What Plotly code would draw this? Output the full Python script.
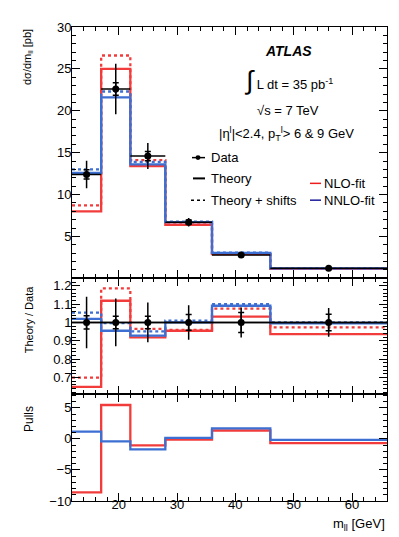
import plotly.graph_objects as go
from plotly.subplots import make_subplots

# bins in m_ll [GeV]
edges = [12, 17, 22, 28, 36, 46, 66]
centres = [14.5, 19.5, 25, 32, 41, 56]
half_w = [2.5, 2.5, 3, 4, 5, 10]

# top panel: d sigma / d m_ll [pb]
data = [12.4, 22.6, 14.6, 6.7, 2.8, 1.2]
err_tot = [1.65, 3.0, 1.55, 0.5, 0.2, 0.1]
err_stat = [0.55, 0.75, 0.55, 0.25, 0.1, 0.05]
nlo = [8.0, 25.0, 13.4, 6.4, 2.89, 1.12]
nlo_shift = [8.7, 26.6, 14.1, 6.45, 3.01, 1.17]
nnlo = [12.6, 21.6, 13.6, 6.7, 3.05, 1.19]
nnlo_shift = [13.0, 22.3, 13.9, 6.77, 3.07, 1.20]

# middle panel: theory / data
ratio_data = [1, 1, 1, 1, 1, 1]
ratio_err_tot = [0.14, 0.13, 0.108, 0.094, 0.082, 0.078]
ratio_err_stat = [0.036, 0.034, 0.034, 0.043, 0.054, 0.045]
nlo_r = [0.65, 1.118, 0.919, 0.955, 1.032, 0.937]
nlo_shift_r = [0.70, 1.185, 0.965, 0.96, 1.075, 0.973]
nnlo_r = [1.02, 0.955, 0.928, 1.0, 1.091, 0.995]
nnlo_shift_r = [1.053, 0.996, 0.951, 1.01, 1.099, 1.0]
theory_r = [1, 1, 1, 1, 1, 1]

# bottom panel: pulls
nlo_p = [-8.6, 5.45, -1.05, -0.1, 1.35, -0.7]
nnlo_p = [1.15, -0.4, -1.7, 0.15, 1.7, -0.15]

RED = "#f23c3c"
BLUE = "#3d6fd2"
FONT = "Liberation Sans"

W, H = 399, 537
L, R, T, B = 64, 20, 14, 44
PW, PH = W - L - R, H - T - B


def px(x):
    return (x - L) / PW


def py(y):
    return (H - B - y) / PH


def step(fig, vals, color, dash, row, width=2.3):
    fig.add_trace(go.Scatter(
        x=edges, y=vals + [vals[-1]], mode="lines", line_shape="hv",
        line=dict(color=color, width=width, dash=dash),
        showlegend=False, hoverinfo="skip"), row=row, col=1)


def points(fig, y, tot, stat, row):
    fig.add_trace(go.Scatter(
        x=centres, y=y, mode="markers", marker=dict(size=1, color="black"),
        error_y=dict(type="data", array=tot, width=0, thickness=1.5, color="black"),
        error_x=dict(type="data", array=half_w, width=0, thickness=1.5, color="black"),
        showlegend=False), row=row, col=1)
    fig.add_trace(go.Scatter(
        x=centres, y=y, mode="markers", marker=dict(size=7, color="black"),
        error_y=dict(type="data", array=stat, width=3, thickness=1.5, color="black"),
        showlegend=False), row=row, col=1)


fig = make_subplots(rows=3, cols=1, shared_xaxes=True, vertical_spacing=0,
                    row_heights=[254, 117, 108])

# top panel
step(fig, nlo_shift, RED, "dot", 1)
step(fig, nlo, RED, "solid", 1)
step(fig, nnlo_shift, BLUE, "dot", 1)
step(fig, nnlo, BLUE, "solid", 1)
points(fig, data, err_tot, err_stat, 1)

# ratio panel
step(fig, nlo_shift_r, RED, "dot", 2)
step(fig, nlo_r, RED, "solid", 2)
step(fig, nnlo_shift_r, BLUE, "dot", 2)
step(fig, nnlo_r, BLUE, "solid", 2)
step(fig, theory_r, "black", "solid", 2, width=1.5)
points(fig, ratio_data, ratio_err_tot, ratio_err_stat, 2)

# pulls panel
step(fig, nlo_p, RED, "solid", 3)
step(fig, nnlo_p, BLUE, "solid", 3)

axis_style = dict(showline=True, linecolor="black", linewidth=1, mirror="ticks",
                  ticks="inside", ticklen=8, tickcolor="black", showgrid=False,
                  zeroline=False, tickfont=dict(family=FONT, size=13, color="black"))

for i in (1, 2, 3):
    fig.update_xaxes(axis_style, range=[12, 66], tick0=0, dtick=10,
                     minor=dict(ticks="inside", ticklen=4, dtick=2, tick0=0, tickcolor="black"),
                     showticklabels=(i == 3), ticklabelstandoff=-9, row=i, col=1)

fig.update_yaxes(axis_style, range=[0, 30], tickmode="array", tickvals=[5, 10, 15, 20, 25, 30],
                 minor=dict(ticks="inside", ticklen=4, tickmode="linear", dtick=1, tick0=0,
                            tickcolor="black"), row=1, col=1)
fig.update_yaxes(axis_style, range=[0.61, 1.24], tickmode="array",
                 tickvals=[0.7, 0.8, 0.9, 1, 1.1, 1.2], ticktext=["0.7", "0.8", "0.9", "1", "1.1", "1.2"],
                 minor=dict(ticks="inside", ticklen=4, tickmode="linear", dtick=0.02, tick0=0,
                            tickcolor="black"), row=2, col=1)
fig.update_yaxes(axis_style, range=[-10, 7.2], tickmode="array", tickvals=[-10, -5, 0, 5],
                 minor=dict(ticks="inside", ticklen=4, tickmode="linear", dtick=1, tick0=0,
                            tickcolor="black"), row=3, col=1)
fig.update_yaxes(ticklabelstandoff=-3)

ann = []


def text(x, y, s, size=13, xanchor="left", yanchor="middle", angle=0, **kw):
    ann.append(dict(x=px(x), y=py(y), xref="paper", yref="paper", text=s, showarrow=False,
                    xanchor=xanchor, yanchor=yanchor, textangle=angle,
                    font=dict(family=FONT, size=size, color="black"), **kw))


# axis titles
text(20, 14, "dσ/dm<sub>ll</sub> [pb]", size=11, xanchor="center", yanchor="top", angle=-90)
text(21, 273, "Theory / Data", size=11, xanchor="center", yanchor="top", angle=-90)
text(21, 395, "Pulls", size=12, xanchor="center", yanchor="top", angle=-90)
text(379, 517, "m<sub>ll</sub> [GeV]", size=13, xanchor="right")

# labels
text(280, 38, "<b><i>ATLAS</i></b>", size=14, xanchor="center")
text(280, 68, "<span style='font-size:26px'>∫</span> L dt = 35 pb<sup>-1</sup>", size=13, xanchor="center")
text(280, 98, "√s = 7 TeV", size=13, xanchor="center")
text(278, 122, "|η<sup>l</sup>|&lt;2.4, p<sub>T</sub><sup>l</sup>&gt; 6 &amp; 9 GeV", size=13, xanchor="center")

# legend
text(201, 146, "Data")
text(201, 167, "Theory")
text(201, 189, "Theory + shifts")
text(314, 172, "NLO-fit")
text(314, 189, "NNLO-fit")

shapes = [
    dict(type="line", xref="paper", yref="paper", x0=px(184), x1=px(197), y0=py(146), y1=py(146),
         line=dict(color="black", width=1.5)),
    dict(type="circle", xref="paper", yref="paper", x0=px(187.5), x1=px(192.5), y0=py(148.5), y1=py(143.5),
         fillcolor="black", line=dict(color="black", width=0)),
    dict(type="line", xref="paper", yref="paper", x0=px(185), x1=px(197), y0=py(167), y1=py(167),
         line=dict(color="black", width=2)),
    dict(type="line", xref="paper", yref="paper", x0=px(183), x1=px(197), y0=py(189), y1=py(189),
         line=dict(color="black", width=1.5, dash="dot")),
    dict(type="line", xref="paper", yref="paper", x0=px(302), x1=px(313), y0=py(172), y1=py(172),
         line=dict(color="#ee1c1c", width=1.5)),
    dict(type="line", xref="paper", yref="paper", x0=px(302), x1=px(313), y0=py(189), y1=py(189),
         line=dict(color="#1c1c99", width=1.5)),
]

fig.update_layout(
    width=W, height=H, margin=dict(l=L, r=R, t=T, b=B),
    plot_bgcolor="white", paper_bgcolor="white",
    annotations=ann, shapes=shapes, showlegend=False,
    font=dict(family=FONT, size=13, color="black"),
)

fig.write_html("out.html")
